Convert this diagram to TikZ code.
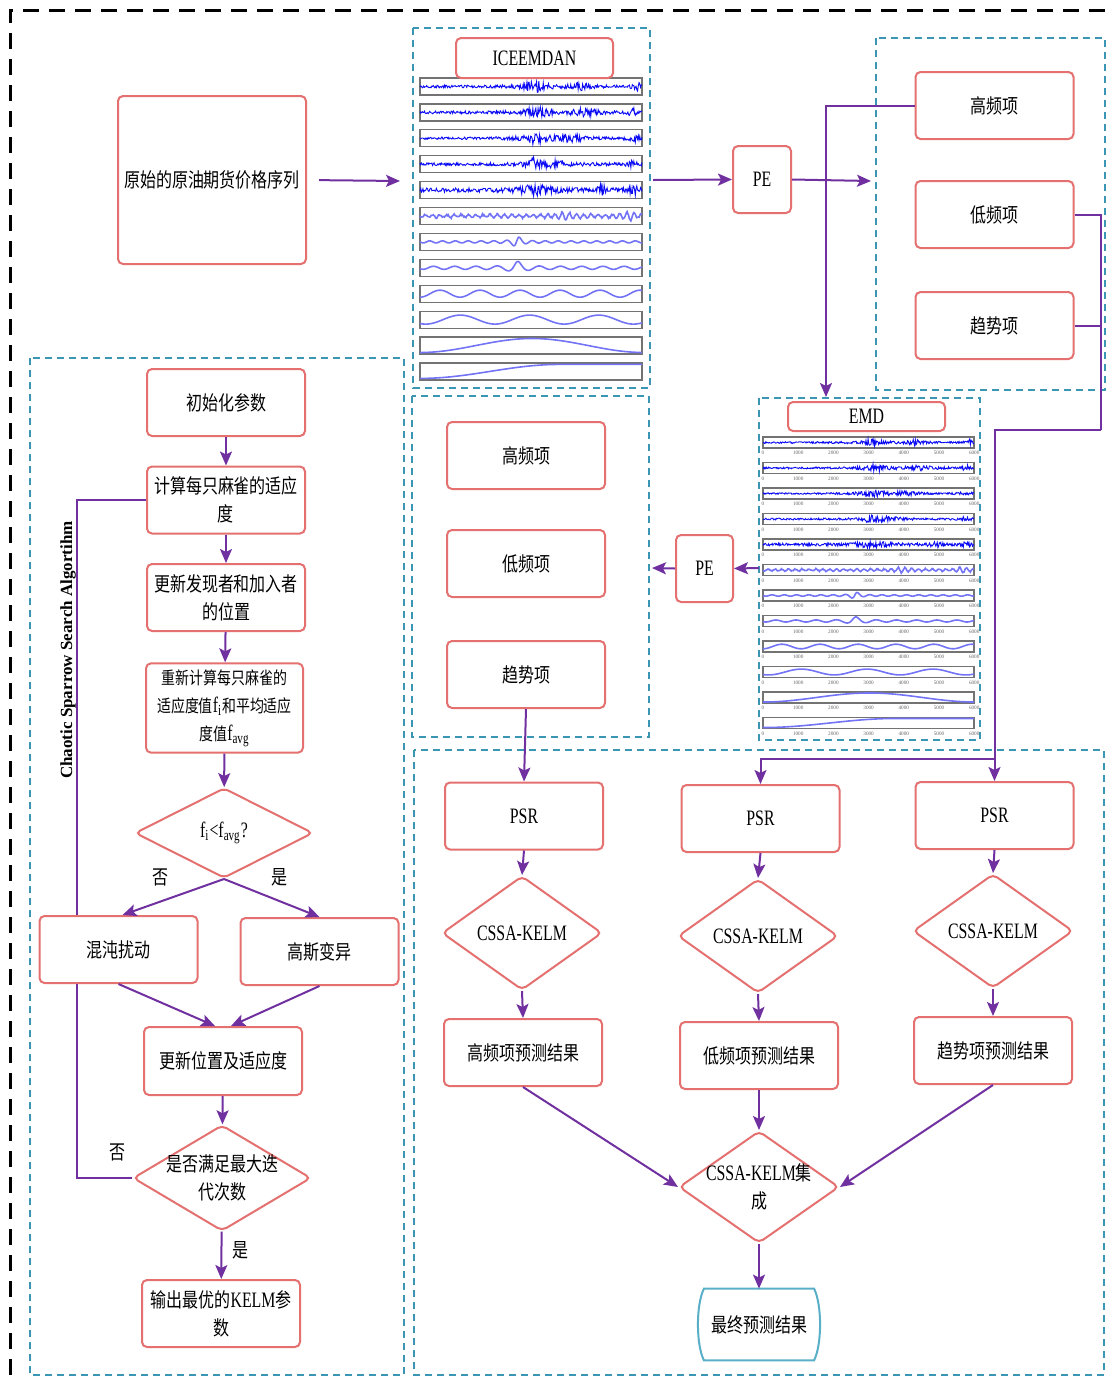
\documentclass[tikz,border=0pt]{standalone}
\usepackage{fontspec}
\setmainfont[FakeStretch=0.72]{Liberation Serif}
\newfontfamily\cjk[FakeStretch=0.8]{Noto Sans CJK SC}
\newfontfamily\serifplain{Liberation Serif}
\usetikzlibrary{shapes.geometric,arrows.meta}

\definecolor{boxred}{RGB}{228,112,112}
\definecolor{arrowpurple}{RGB}{112,48,160}
\definecolor{groupteal}{RGB}{58,150,178}
\definecolor{endcyan}{RGB}{90,175,200}
\definecolor{imfdark}{RGB}{10,10,245}
\definecolor{imflight}{RGB}{115,115,245}

\newcommand{\latn}[1]{{\rmfamily\fontsize{11}{14}\selectfont #1}}
% one IMF trace in local panel units (x 0..222, y 0..17)
\newcommand{\imfcurve}[1]{%
  \ifcase#1
    \draw[imfdense] plot[domain=0:222,samples=300] (\x,{8.5+rand*(1.3+5.5*burst(\x,115,8)+3.5*burst(\x,160,7)+4*burst(\x,218,3))});
  \or
    \draw[imfdense] plot[domain=0:222,samples=300] (\x,{8.5+rand*(1.3+5.5*burst(\x,117,9)+3.5*burst(\x,165,10)+3.5*burst(\x,214,4))});
  \or
    \draw[imfdense] plot[domain=0:222,samples=300] (\x,{8.5+rand*(1.1+5*burst(\x,115,10)+3*burst(\x,150,12)+3.5*burst(\x,214,4))});
  \or
    \draw[imfdense] plot[domain=0:222,samples=300] (\x,{8.5+rand*(1.3+6*burst(\x,112,3)+3.5*burst(\x,130,14)+3.5*burst(\x,214,4))});
  \or
    \draw[imfdense] plot[domain=0:222,samples=300] (\x,{8.5+rand*(2+4*burst(\x,115,14)+5*burst(\x,182,3)+4*burst(\x,214,3))});
  \or
    \draw[imfwave] plot[domain=0:222,samples=300] (\x,{8.5+(1.5+1.2*rand+2.5*burst(\x,145,6)+3*burst(\x,210,5))*sin(50*\x)});
  \or
    \draw[imfwave] plot[domain=0:222,samples=250] (\x,{8.5+(1+5*burst(\x,97,4))*sin(28*\x)});
  \or
    \draw[imfwave] plot[domain=0:222,samples=200] (\x,{8.5+(1.5+5*burst(\x,97,6))*sin(17*\x+40)});
  \or
    \draw[imfwave] plot[domain=0:222,samples=150] (\x,{8.5+3.5*sin(9*\x+90)});
  \or
    \draw[imfwave] plot[domain=0:222,samples=120] (\x,{8.5+4.5*sin(5.2*\x+60)});
  \or
    \draw[imfwave] plot[domain=0:222,samples=100] (\x,{8.5-7*cos((\x-112)/112*180)});
  \or
    \draw[imfwave] plot[domain=0:222,samples=100] (\x,{8.5+7*cos(min(\x,140)/140*180)});
  \fi}

\begin{document}
\begin{tikzpicture}[x=0.5pt,y=-0.5pt,
    declare function={burstu(\t,\c,\s)=max(-50,min(50,(\t-\c)/\s));
      burst(\t,\c,\s)=1/(1+burstu(\t,\c,\s)*burstu(\t,\c,\s));},
    box/.style={draw=boxred,line width=1pt,rounded corners=2.5pt,fill=white,align=center,
      minimum width=79pt,minimum height=33.5pt,inner sep=3pt,font=\cjk\fontsize{10}{14}\selectfont},
    latin/.style={font=\rmfamily\fontsize{11}{13}\selectfont},
    dia/.style={diamond,draw=boxred,line width=1pt,rounded corners=2.5pt,fill=white,align=center,
      aspect=1.4,inner sep=-3pt,minimum width=80pt,minimum height=57pt,font=\cjk\fontsize{10}{14}\selectfont},
    flow/.style={draw=arrowpurple,line width=1pt,-{Stealth[length=7pt,width=6pt,inset=1.5pt]}},
    link/.style={draw=arrowpurple,line width=1pt},
    group/.style={draw=groupteal,line width=1.3pt,dash pattern=on 3.5pt off 2.5pt},
    panel/.style={draw=black!55,line width=0.6pt},
    imfdense/.style={imfdark,line width=0.45pt},
    imfwave/.style={imflight,line width=0.8pt},
    ticklab/.style={font=\serifplain\fontsize{2.6}{3}\selectfont,text=black!60,inner sep=0pt},
    note/.style={font=\cjk\fontsize{10}{12}\selectfont,inner sep=1pt}]
\useasboundingbox (0,0) rectangle (1112,1383);
\pgfmathsetseed{7}

% frames
\draw[line width=1.5pt,dash pattern=on 8pt off 5pt] (10,1375) -- (10,10) -- (1112,10);
\draw[group] (413,28) rectangle (650,388);
\draw[group] (876,38) rectangle (1105,390);
\draw[group] (30,358) rectangle (404,1375);
\draw[group] (412,396) rectangle (649,737);
\draw[group] (759,398) rectangle (980,740);
\draw[group] (414,750) rectangle (1104,1375);

% ICEEMDAN modes
\foreach \k [evaluate=\k as \ty using 78+25.9*\k] in {0,...,11} {
  \begin{scope}[shift={(420,\ty)}]
    \draw[panel] (0,0) rectangle (222,17);
    \imfcurve{\k}
  \end{scope}
}
% EMD modes
\foreach \k [evaluate=\k as \ty using 437+25.5*\k] in {0,...,11} {
  \begin{scope}[shift={(763,\ty)},xscale=0.95,yscale=0.647]
    \draw[panel] (0,0) rectangle (222,17);
    \imfcurve{\k}
  \end{scope}
  \foreach \j/\lab in {0/0,1/1000,2/2000,3/3000,4/4000,5/5000,6/6000}
    \node[ticklab] at ({763+35.2*\j},{\ty+16}) {\lab};
}

% top row
\node[box,minimum width=93pt,minimum height=84pt] (src) at (212,180) {原始的原油期货价格序列};
\node[box,latin,minimum width=78.5pt,minimum height=20pt] (ice) at (534.5,58) {ICEEMDAN};
\node[box,latin,minimum width=29pt] (pe1) at (762,179.5) {PE};
\node[box] (hi1) at (994.5,105.5) {高频项};
\node[box] (lo1) at (994.5,214.5) {低频项};
\node[box] (tr1) at (994.5,325.5) {趋势项};
\node[box,latin,minimum width=78.5pt,minimum height=14.5pt,inner sep=1pt] (emd) at (866.5,416.5) {EMD};
\node[box,latin,minimum width=28.5pt] (pe2) at (704.5,568.5) {PE};
\node[box] (hi2) at (526,455.5) {高频项};
\node[box] (lo2) at (526,563.5) {低频项};
\node[box] (tr2) at (526,674.5) {趋势项};

% prediction branches
\node[box,latin] (psr1) at (524,816) {PSR};
\node[box,latin] (psr2) at (760.5,818.5) {PSR};
\node[box,latin] (psr3) at (994.5,815.5) {PSR};
\node[dia,latin] (km1) at (522,933) {CSSA-KELM};
\node[dia,latin] (km2) at (758,936) {CSSA-KELM};
\node[dia,latin] (km3) at (993,931) {CSSA-KELM};
\node[box] (res1) at (523,1052.5) {高频项预测结果};
\node[box] (res2) at (759,1055.5) {低频项预测结果};
\node[box] (res3) at (993,1050.5) {趋势项预测结果};
\node[dia,minimum height=56pt] (ens) at (759,1187) {\latn{CSSA-KELM}集\\成};
\node[font=\cjk\fontsize{10}{14}\selectfont,minimum width=53pt,minimum height=35.5pt] (fin) at (759,1324.5) {最终预测结果};
\draw[draw=endcyan,line width=1pt] (fin.north west) -- (fin.north east)
  .. controls +(4pt,-8pt) and +(4pt,8pt) .. (fin.south east) -- (fin.south west)
  .. controls +(-4pt,8pt) and +(-4pt,-8pt) .. cycle;

% sparrow search
\node[rotate=90,font=\serifplain\bfseries\fontsize{8.5}{10}\selectfont] (algo) at (68,650) {Chaotic Sparrow Search Algortihm};
\node[box] (init) at (226,402.5) {初始化参数};
\node[box] (fit) at (226,500) {计算每只麻雀的适应\\度};
\node[box] (upd) at (226,597.5) {更新发现者和加入者\\的位置};
\node[box,minimum width=78.5pt,minimum height=44pt,font=\cjk\fontsize{8.7}{14}\selectfont] (refit) at (224.5,708)
  {重新计算每只麻雀的\\适应度值\latn{f\textsubscript{i}}和平均适应\\度值\latn{f\textsubscript{avg}}};
\node[dia,minimum width=89pt,minimum height=45pt] (cmp) at (224,833) {\latn{f\textsubscript{i}<f\textsubscript{avg}?}};
\node[box] (chaos) at (118.5,949.5) {混沌扰动};
\node[box] (gauss) at (319.5,951.5) {高斯变异};
\node[box,minimum height=34pt] (newpos) at (223,1061) {更新位置及适应度};
\node[dia,minimum width=89pt,minimum height=45pt] (iter) at (222,1178) {是否满足最大迭\\代次数};
\node[box] (out) at (221,1313.5) {输出最优的\latn{KELM}参\\数};
\node[note] (no1) at (160,877) {否};
\node[note] (yes1) at (279,877) {是};
\node[note] (no2) at (117,1152) {否};
\node[note] (yes2) at (240,1250) {是};

% connectors, top part
\coordinate (iceIn) at (400,181);
\coordinate (iceOut) at (653,180);
\coordinate (termIn) at (871,181);
\coordinate (emdIn) at (826,397);
\coordinate (emdOut) at (759,568);
\coordinate (midIn) at (652,568);
\coordinate (bus) at (1101,430);
\draw[flow,shorten <=6pt] (src.east) -- (iceIn);
\draw[flow] (iceOut) -- (pe1.west);
\draw[flow] (pe1.east) -- (termIn);
\draw[flow] (hi1.west) -| (emdIn);
\draw[link] (lo1.east) -| (bus);
\draw[link] (tr1.east) -- (tr1.east -| bus);
\draw[flow] (bus) -| (psr3.north);
\path (psr3.north) ++(0,-22) coordinate (split);
\draw[flow] (split) -| (psr2.north);
\draw[flow] (emdOut) -- (pe2.east);
\draw[flow] (pe2.west) -- (midIn);
\draw[flow] (tr2.south) -- (psr1.north);
\foreach \n in {1,2,3} {
  \draw[flow] (psr\n.south) -- (km\n.north);
  \draw[flow] (km\n.south) -- (res\n.north);
}
\draw[flow] (res1.south) -- (ens.west);
\draw[flow] (res2.south) -- (ens.north);
\draw[flow] (res3.south) -- (ens.east);
\draw[flow] (ens.south) -- (fin.north);

% connectors, sparrow search
\draw[flow] (init) -- (fit);
\draw[flow] (fit) -- (upd);
\draw[flow] (upd) -- (refit);
\draw[flow] (refit) -- (cmp);
\draw[flow] (cmp.south) -- ([xshift=2pt]chaos.north);
\draw[flow] (cmp.south) -- (gauss.north);
\draw[flow] (chaos.south) -- ([xshift=-4pt]newpos.north);
\draw[flow] (gauss.south) -- ([xshift=4pt]newpos.north);
\draw[flow] (newpos) -- (iter);
\draw[flow] (iter) -- (out);
\draw[link] ([xshift=-20.75pt]chaos.north) |- (fit.west);
\draw[link] (iter.west) -| ([xshift=-20.75pt]chaos.south);
\end{tikzpicture}
\end{document}
